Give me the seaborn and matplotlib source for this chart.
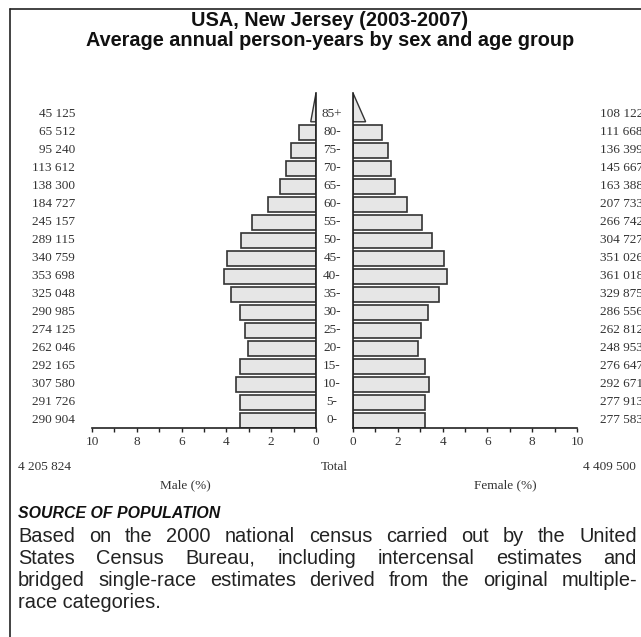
import numpy as np
import pandas as pd
import matplotlib
matplotlib.use("Agg")
import matplotlib.pyplot as plt
import matplotlib.transforms as mtransforms
from matplotlib.lines import Line2D
from matplotlib.ticker import MultipleLocator
import seaborn as sns

# Data
age_groups = ["0-", "5-", "10-", "15-", "20-", "25-", "30-", "35-", "40-",
              "45-", "50-", "55-", "60-", "65-", "70-", "75-", "80-", "85+"]
male_counts = [290904, 291726, 307580, 292165, 262046, 274125, 290985, 325048,
               353698, 340759, 289115, 245157, 184727, 138300, 113612, 95240,
               65512, 45125]
female_counts = [277583, 277913, 292671, 276647, 248953, 262812, 286556, 329875,
                 361018, 351026, 304727, 266742, 207733, 163388, 145667, 136399,
                 111668, 108122]
male_total = 4205824
female_total = 4409500
x_ticks = [0, 2, 4, 6, 8, 10]

title_lines = ["USA, New Jersey (2003-2007)",
               "Average annual person-years by sex and age group"]
source_title = "SOURCE OF POPULATION"
source_lines = ["Based on the 2000 national census carried out by the United",
                "States Census Bureau, including intercensal estimates and",
                "bridged single-race estimates derived from the original multiple-",
                "race categories."]

SERIF = "Liberation Serif"
SANS = "Liberation Sans"
FILL = "#e6e6e6"
EDGE = "#333333"
DARK = "#222222"

# percentages are of the grand total (both sexes)
grand = male_total + female_total
df = pd.DataFrame({
    "age": age_groups,
    "pos": np.arange(len(age_groups)),
    "male": np.array(male_counts) / grand * 100,
    "female": np.array(female_counts) / grand * 100,
})
bars = df.iloc[:-1]   # open-ended 85+ group is drawn as a triangle
top = df.iloc[-1]

sns.set_style("white")
W, H = 641, 637
fig = plt.figure(figsize=(W / 100, H / 100), dpi=100)


def fx(px):
    return px / W


def fy(py):
    return 1 - py / H


BAR_H = 0.83
TRI_H = 1.6
TRI_SCALE = 0.45
y_lo = -BAR_H / 2 - 0.02
y_hi = len(age_groups) - 1 - BAR_H / 2 + TRI_H

axL = fig.add_axes([fx(92), fy(428), fx(224), fy(93) - fy(428)])
axR = fig.add_axes([fx(353), fy(428), fx(224), fy(93) - fy(428)])

for ax, col, side in [(axL, "male", "left"), (axR, "female", "right")]:
    sns.barplot(data=bars, x=col, y="pos", orient="h", native_scale=True,
                width=BAR_H, color=FILL, edgecolor=EDGE, linewidth=1.2,
                saturation=1, ax=ax)
    base = top["pos"] - BAR_H / 2
    w = top[col] * TRI_SCALE
    ax.fill([0, w, 0], [base, base, base + TRI_H], facecolor=FILL,
            edgecolor=EDGE, linewidth=1.0)
    ax.set_ylim(y_lo, y_hi)
    ax.set_xlabel("")
    ax.set_ylabel("")
    ax.set_yticks([])
    ax.set_xticks(x_ticks)
    ax.xaxis.set_minor_locator(MultipleLocator(1))
    ax.tick_params(axis="x", which="both", direction="out", length=3,
                   width=1, color=DARK, bottom=True, pad=3)
    for lab in ax.get_xticklabels():
        lab.set_fontfamily(SERIF)
        lab.set_fontsize(9.5)
        lab.set_color("#333333")
    for s in ax.spines.values():
        s.set_color(DARK)
        s.set_linewidth(1.2)
    ax.spines["top"].set_visible(False)
    if side == "left":
        ax.spines["left"].set_visible(False)
    else:
        ax.spines["right"].set_visible(False)
    ax.patch.set_alpha(0)

axL.set_xlim(10, 0)
axR.set_xlim(0, 10)

# age labels and counts, aligned with the rows
trL = mtransforms.blended_transform_factory(fig.transFigure, axL.transData)
for _, r in df.iterrows():
    fig.text(fx(332), r["pos"], r["age"], transform=trL, ha="center",
             va="center", family=SERIF, fontsize=9.5, color="#333333")
for i, c in enumerate(male_counts):
    fig.text(fx(75), df["pos"][i], f"{c:,}".replace(",", " "), transform=trL,
             ha="right", va="center", family=SERIF, fontsize=9.5,
             color="#333333")
for i, c in enumerate(female_counts):
    fig.text(fx(600), df["pos"][i], f"{c:,}".replace(",", " "), transform=trL,
             ha="left", va="center", family=SERIF, fontsize=9.5,
             color="#333333")

# totals and axis captions
fig.text(fx(18), fy(467), f"{male_total:,}".replace(",", " "), ha="left",
         va="center", family=SERIF, fontsize=9.5, color="#333333")
fig.text(fx(334), fy(467), "Total", ha="center", va="center", family=SERIF,
         fontsize=9.5, color="#333333")
fig.text(fx(636), fy(467), f"{female_total:,}".replace(",", " "), ha="right",
         va="center", family=SERIF, fontsize=9.5, color="#333333")
fig.text(fx(185), fy(485), "Male (%)", ha="center", va="center", family=SERIF,
         fontsize=9.5, color="#333333")
fig.text(fx(505), fy(485), "Female (%)", ha="center", va="center",
         family=SERIF, fontsize=9.5, color="#333333")

# title
fig.text(fx(330), fy(21), title_lines[0], ha="center", va="center",
         family=SANS, fontweight="bold", fontsize=14.3, color="#111111")
fig.text(fx(330), fy(40), title_lines[1], ha="center", va="center",
         family=SANS, fontweight="bold", fontsize=14.3, color="#111111")

# source block, justified text
fig.text(fx(18), fy(514), source_title, ha="left", va="center", family=SANS,
         fontweight="bold", fontstyle="italic", fontsize=11.4,
         color="#111111")

renderer = fig.canvas.get_renderer()
left_px, right_px = 18, 637
body_size = 14.4
for k, line in enumerate(source_lines):
    y = fy(536 + k * 22)
    if k == len(source_lines) - 1:
        fig.text(fx(left_px), y, line, ha="left", va="center", family=SANS,
                 fontsize=body_size, color="#222222")
        continue
    words = line.split(" ")
    widths = []
    for wd in words:
        t = fig.text(0, 0, wd, family=SANS, fontsize=body_size)
        widths.append(t.get_window_extent(renderer).width)
        t.remove()
    gap = (right_px - left_px - sum(widths)) / (len(words) - 1)
    x = left_px
    for wd, wdt in zip(words, widths):
        fig.text(fx(x), y, wd, ha="left", va="center", family=SANS,
                 fontsize=body_size, color="#222222")
        x += wdt + gap

# frame lines on the left and top
fig.add_artist(Line2D([fx(10), fx(10)], [fy(9), 0], transform=fig.transFigure,
                      color=DARK, linewidth=1.2))
fig.add_artist(Line2D([fx(10), 1], [fy(9), fy(9)], transform=fig.transFigure,
                      color=DARK, linewidth=1.2))

fig.savefig("out.png", dpi=100)
